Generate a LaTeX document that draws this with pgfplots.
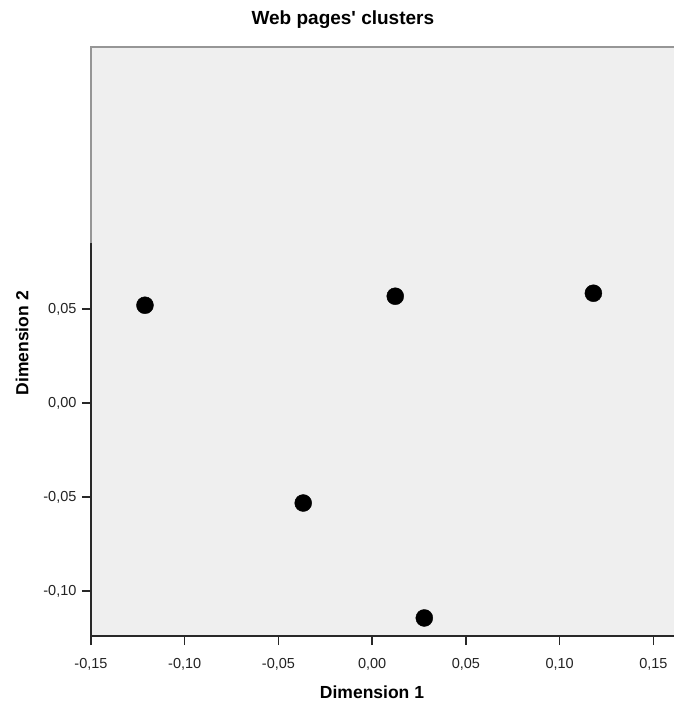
\documentclass[border=0pt]{standalone}
\usepackage{pgfplots}
\pgfplotsset{compat=1.18}
\usepackage{fontspec}
\setmainfont{Liberation Sans}
\definecolor{panel}{RGB}{239,239,239}
\definecolor{axisdark}{RGB}{40,40,40}
\definecolor{topgray}{RGB}{150,150,150}
\definecolor{ticktext}{RGB}{35,35,35}

\begin{document}
\begin{tikzpicture}[x=1pt,y=1pt]
    \useasboundingbox (0,0) rectangle (674,705);
    \begin{axis}[
        at={(91pt,69pt)}, anchor=south west,
        scale only axis,
        width=583pt, height=589pt,
        xmin=-0.15, xmax=0.161,
        ymin=-0.124, ymax=0.1896,
        axis background/.style={fill=panel},
        axis x line*=bottom, axis y line*=left,
        axis line style={axisdark, line width=1.6pt, -},
        xtick={-0.15,-0.10,...,0.16},
        ytick={-0.10,-0.05,0,0.05},
        tick align=outside,
        major tick length=9pt,
        tick style={axisdark, line width=1.4pt},
        /pgf/number format/assume math mode=true,
        /pgf/number format/.cd, use comma, fixed, fixed zerofill, precision=2,
        /pgfplots/.cd,
        scaled ticks=false,
        ticklabel style={font=\fontsize{14.5}{15}\selectfont, text=ticktext},
        xticklabel style={yshift=-10pt},
        yticklabel style={xshift=-2pt},
        title={Web pages\textquotesingle{} clusters},
        title style={at={(0.432,1.036)}, anchor=center, font=\bfseries\fontsize{19}{20}\selectfont},
        xlabel={Dimension 1},
        xlabel style={at={(0.482,-0.095)}, anchor=center, font=\bfseries\fontsize{17.5}{18}\selectfont},
        ylabel={Dimension 2},
        ylabel style={at={(-0.118,0.497)}, anchor=center, font=\bfseries\fontsize{17.5}{18}\selectfont},
        clip=false,
    ]
        \addplot[only marks, mark=*, mark size=8.5pt, mark options={fill=black, draw=black}] coordinates {
            (-0.1212, 0.0521)
            (0.0123, 0.0569)
            (0.1180, 0.0585)
            (-0.0368, -0.0532)
            (0.0278, -0.1144)
        };
        \draw[topgray, line width=1.5pt] (axis cs:-0.15,0.0851) -- (axis cs:-0.15,0.1896) -- (axis cs:0.161,0.1896);
    \end{axis}
\end{tikzpicture}
\end{document}
